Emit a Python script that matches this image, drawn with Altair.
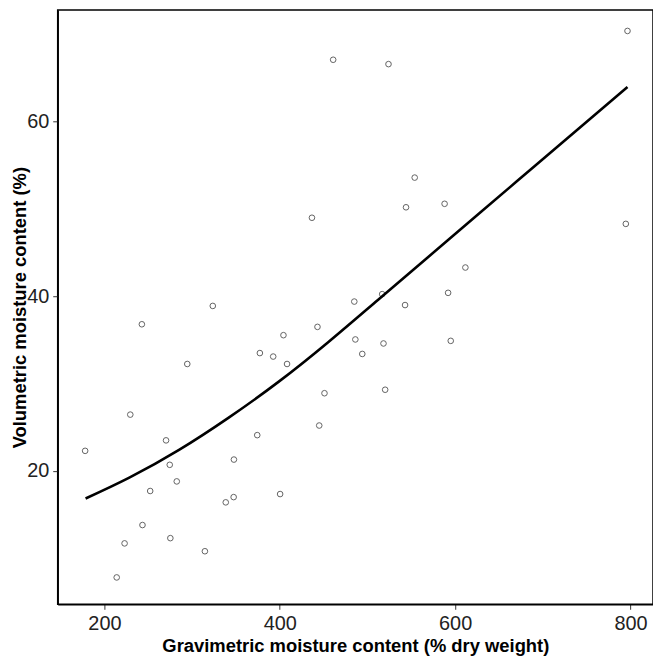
import altair as alt
import pandas as pd

# Scatter observations (gravimetric %, volumetric %)
grav = [178, 214, 223, 229.5, 242.7, 243.4, 252.2, 270.3, 274.5, 275.2,
        282.5, 294.5, 314.6, 323.6, 338.4, 347.7, 347.4, 374.3, 377.3, 392.5,
        400.4, 404.2, 408.3, 436.7, 443, 445, 451, 460.9, 485, 486.2,
        494.1, 516.8, 518.3, 520.2, 524, 542.9, 544, 553.9, 588, 592,
        595, 611.7, 794.7, 796.6]
vol = [22.3, 7.8, 11.7, 26.45, 36.8, 13.8, 17.7, 23.5, 20.7, 12.3,
       18.8, 32.25, 10.8, 38.9, 16.4, 21.3, 17.0, 24.1, 33.5, 33.1,
       17.35, 35.55, 32.25, 49.0, 36.5, 25.2, 28.9, 67.1, 39.4, 35.06,
       33.4, 40.25, 34.6, 29.3, 66.6, 39.0, 50.2, 53.6, 50.6, 40.4,
       34.9, 43.3, 48.3, 70.4]

# Fitted curve
fit_x = [178.5, 228.4, 285.1, 341.8, 398.5, 455.2, 511.9, 591.3, 670.7, 750.1, 796.6]
fit_y = [16.84, 19.23, 22.41, 26.11, 30.20, 34.75, 39.59, 46.39, 53.20, 60.01, 63.99]

x_ticks = [200, 400, 600, 800]
y_ticks = [20, 40, 60]

pts = pd.DataFrame({"g": grav, "v": vol})
fit = pd.DataFrame({"g": fit_x, "v": fit_y})

FONT = "Liberation Sans"

xscale = alt.Scale(domain=[146.7, 825.7], nice=False, zero=False)
yscale = alt.Scale(domain=[4.72, 72.8], nice=False, zero=False)

xaxis = alt.Axis(
    title="Gravimetric moisture content (% dry weight)",
    values=x_ticks, grid=False, tickSize=5, labelPadding=4,
    labelFontSize=20, labelFont=FONT, labelColor="#222222",
    titleFontSize=18.5, titleFont=FONT, titleFontWeight="bold", titleColor="black",
    titleBaseline="alphabetic", titleY=47,
    domainColor="black", domainWidth=1.5, tickColor="#333333", tickWidth=1,
)
yaxis = alt.Axis(
    title="Volumetric moisture content (%)",
    values=y_ticks, grid=False, tickSize=5, labelPadding=4,
    labelFontSize=20, labelFont=FONT, labelColor="#222222",
    titleFontSize=18.5, titleFont=FONT, titleFontWeight="bold", titleColor="black",
    titleBaseline="alphabetic", titleX=-32, titleAngle=270,
    domainColor="black", domainWidth=1.5, tickColor="#333333", tickWidth=1,
)

points = alt.Chart(pts).mark_point(
    shape="circle", filled=False, size=32, stroke="#222222", strokeWidth=1
).encode(
    x=alt.X("g:Q", scale=xscale, axis=xaxis),
    y=alt.Y("v:Q", scale=yscale, axis=yaxis),
)

line = alt.Chart(fit).mark_line(
    color="black", strokeWidth=2.6, interpolate="natural"
).encode(
    x=alt.X("g:Q", scale=xscale),
    y=alt.Y("v:Q", scale=yscale),
)

chart = (points + line).properties(
    width=599, height=598,
    autosize=alt.AutoSizeParams(type="none"),
    padding={"left": 50, "top": 0, "right": 0, "bottom": 50},
    background="white",
).configure_view(
    stroke="black", strokeWidth=1.5
)

chart.save("out.html", embed_options={"renderer": "svg", "actions": False})
